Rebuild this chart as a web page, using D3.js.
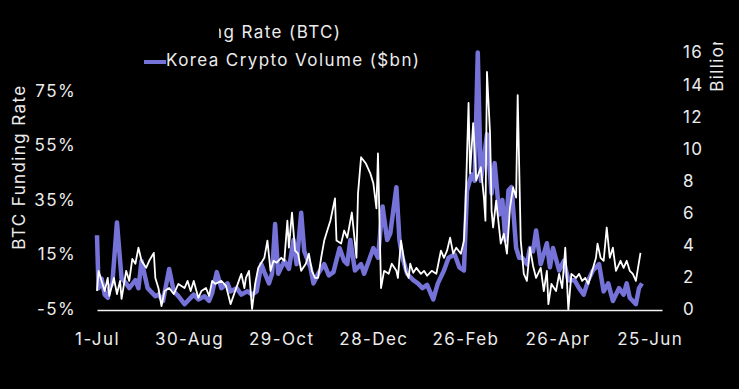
<!DOCTYPE html>
<html>
<head>
<meta charset="utf-8">
<script src="https://cdn.jsdelivr.net/npm/d3@7"></script>
<style>
  html, body { margin: 0; padding: 0; background: #000; }
  svg { display: block; }
  text { font-family: Inter, "Open Sans", sans-serif; fill: #ececec; letter-spacing: 1.4px; }
</style>
</head>
<body>
<svg id="chart" width="739" height="389"></svg>
<script>
const START = new Date(2023, 6, 1);
const tickDays = [0, 60, 120, 180, 240, 300, 360];
const tickLabels = ['1-Jul', '30-Aug', '29-Oct', '28-Dec', '26-Feb', '26-Apr', '25-Jun'];
const rateTicks = [-5, 15, 35, 55, 75];
const volumeTicks = [0, 2, 4, 6, 8, 10, 12, 14, 16];

// days since 1-Jul, BTC funding rate (%)
const rateDays = [0, 1, 5, 7, 8, 11, 13, 15, 16, 19, 21, 23, 25, 27, 29, 32, 34, 37, 38, 40,
  42, 44, 47, 50, 53, 57, 59, 61, 63, 66, 68, 71, 73, 75, 77, 81, 84, 87, 90, 94,
  96, 97, 99, 101, 103, 105, 109, 111, 113, 115, 117, 120, 122, 124, 125, 127, 129, 131, 133, 136,
  138, 140, 142, 144, 146, 148, 150, 152, 155, 156, 159, 161, 163, 166, 169, 170, 172, 175, 178, 180,
  182, 183, 185, 187, 190, 192, 195, 196, 198, 201, 203, 204, 206, 208, 211, 213, 215, 218, 221, 224,
  226, 228, 230, 232, 234, 237, 239, 240, 242, 243, 245, 247, 250, 252, 253, 254, 256, 257, 258, 260,
  263, 265, 267, 269, 271, 273, 274, 276, 278, 280, 282, 284, 286, 289, 291, 293, 294, 296, 299, 301,
  303, 305, 307, 309, 312, 314, 316, 318, 320, 322, 325, 326, 328, 330, 332, 334, 336, 338, 341, 343,
  345, 347, 349, 351, 354];
const rateValues = [1.6, 9.0, 1.6, 6.4, -0.2, 6.4, 0.5, 5.3, -1.3, 9.0, 5.3, 13.4, 11.6, 17.5, 12.7, 10.1, 12.7, 15.6, 6.4, 2.7,
  -3.9, 1.6, 2.7, 0.5, 4.2, 2.7, 5.3, 1.6, 5.3, -0.9, 1.6, 2.7, -0.2, 5.3, 4.2, 5.3, 3.5, -3.2, 1.6, 7.9,
  2.7, 6.4, 9.0, -5.0, 4.2, 10.1, 13.8, 20.1, 9.0, 12.7, 12.0, 13.8, 12.7, 27.4, 17.5, 30.4, 16.4, 15.3, 9.0, 11.6,
  15.3, 9.0, 6.4, 6.4, 13.8, 20.1, 23.8, 27.4, 35.6, 20.1, 19.0, 23.8, 21.2, 30.4, 13.8, 37.4, 50.7, 48.5, 44.8, 41.1,
  31.9, 52.1, 2.7, 9.0, 7.9, 11.6, 9.0, 6.4, 20.1, 9.0, 6.4, 11.6, 8.3, 10.1, 7.9, 9.0, 7.2, 9.0, 7.9, 16.4,
  13.8, 16.4, 21.2, 15.3, 17.5, 15.3, 20.1, 32.2, 70.6, 44.8, 63.2, 42.2, 47.0, 35.9, 27.4, 82.0, 59.5, 31.1, 24.9, 34.8,
  19.0, 22.6, 15.3, 32.2, 39.6, 35.9, 73.5, 20.1, 7.9, 5.3, 17.5, 10.9, 6.4, 10.1, 1.6, 9.0, -3.2, 4.2, 1.6, 7.9,
  2.7, 17.5, -5.3, 7.9, 6.4, 7.9, 5.3, 6.4, 4.2, 7.9, 13.8, 19.0, 13.8, 12.7, 24.9, 13.8, 17.5, 9.0, 12.7, 10.1,
  12.7, 9.0, 7.9, 5.3, 15.6];

// days since 1-Jul, Korea crypto volume ($bn)
const volumeDays = [0, 1, 3, 5, 7, 8, 10, 13, 16, 19, 21, 25, 27, 29, 33, 35, 38, 40, 43, 47,
  50, 53, 57, 60, 63, 66, 70, 73, 75, 78, 81, 85, 87, 91, 94, 98, 101, 104, 107, 109,
  112, 114, 116, 118, 122, 125, 128, 130, 133, 135, 139, 141, 144, 148, 151, 154, 158, 161, 163, 165,
  168, 172, 174, 177, 180, 183, 186, 189, 191, 195, 197, 199, 202, 206, 209, 212, 215, 219, 222, 226,
  229, 233, 236, 239, 241, 244, 246, 248, 250, 252, 254, 257, 259, 262, 264, 266, 268, 270, 273, 275,
  277, 280, 282, 284, 286, 289, 293, 295, 297, 301, 304, 307, 311, 314, 317, 320, 323, 327, 330, 333,
  336, 340, 343, 345, 347, 351, 353, 355];
const volumeValues = [4.6, 1.3, 1.9, 0.9, 0.7, 1.3, 1.6, 5.4, 1.9, 1.6, 1.3, 1.8, 1.3, 3.0, 1.3, 1.1, 0.8, 0.9, 0.5, 2.5,
  1.1, 0.8, 0.3, 0.6, 0.9, 0.6, 0.8, 0.5, 1.0, 2.3, 1.3, 1.6, 1.1, 1.3, 0.9, 1.1, 0.9, 1.1, 2.8, 2.3,
  1.6, 2.2, 5.3, 2.2, 3.0, 2.5, 4.3, 2.8, 6.0, 3.6, 2.6, 1.6, 2.2, 2.8, 2.1, 2.3, 3.8, 3.0, 2.8, 4.3,
  2.4, 2.8, 2.2, 3.0, 3.8, 3.2, 6.4, 4.3, 4.7, 7.6, 4.3, 3.2, 2.2, 1.8, 1.6, 1.3, 1.5, 0.6, 1.6, 2.4,
  3.2, 3.4, 2.6, 2.4, 7.4, 8.4, 8.0, 16.0, 8.0, 9.4, 10.9, 7.2, 9.1, 5.9, 6.8, 4.3, 7.4, 7.6, 3.8, 3.2,
  3.2, 2.8, 3.8, 3.6, 4.9, 2.8, 4.1, 2.6, 3.8, 2.4, 3.0, 1.8, 1.8, 1.3, 0.9, 1.8, 2.4, 2.8, 1.1, 1.6,
  0.5, 1.3, 0.9, 1.6, 0.7, 0.3, 1.3, 1.6];

const svg = d3.select('#chart');
const day = (d) => d3.timeDay.offset(START, d);

const x = d3.scaleTime().domain([START, day(368)]).range([97, 662]);
const yRate = d3.scaleLinear().domain([-5, 75]).range([309, 91]);
const yVol = d3.scaleLinear().domain([0, 16]).range([309, 52.5]);

// bottom axis
const xAxis = svg.append('g').attr('transform', 'translate(0,310)')
  .call(d3.axisBottom(x).tickValues(tickDays.map(day))
    .tickFormat((d, i) => tickLabels[i]).tickSize(0).tickPadding(23));
xAxis.select('.domain').attr('stroke', '#f2f2f2').attr('stroke-width', 1.5);
xAxis.selectAll('text').attr('font-size', 17).attr('fill', '#ececec');

const leftAxis = svg.append('g').attr('transform', 'translate(97,0)')
  .call(d3.axisLeft(yRate).tickValues(rateTicks).tickFormat((d) => d + '%').tickSize(0).tickPadding(21));
leftAxis.select('.domain').remove();
leftAxis.selectAll('text').attr('font-size', 17).attr('fill', '#ececec');

const rightAxis = svg.append('g').attr('transform', 'translate(662,0)')
  .call(d3.axisRight(yVol).tickValues(volumeTicks).tickSize(0).tickPadding(21));
rightAxis.select('.domain').remove();
rightAxis.selectAll('text').attr('font-size', 17).attr('fill', '#ececec');

// axis titles
svg.append('text').attr('transform', 'translate(25,167) rotate(-90)')
  .attr('text-anchor', 'middle').attr('font-size', 17).text('BTC Funding Rate');

svg.append('clipPath').attr('id', 'titleClip')
  .append('rect').attr('x', 690).attr('y', 42).attr('width', 49).attr('height', 120);
svg.append('g').attr('clip-path', 'url(#titleClip)')
  .append('text').attr('transform', 'translate(723,63) rotate(-90)')
  .attr('text-anchor', 'middle').attr('font-size', 17).text('Billion');

// lines
const volLine = d3.line().x((d, i) => x(day(volumeDays[i]))).y((d) => yVol(d));
const rateLine = d3.line().x((d, i) => x(day(rateDays[i]))).y((d) => yRate(d));

svg.append('path').datum(volumeValues).attr('d', volLine)
  .attr('fill', 'none').attr('stroke', '#7673d8').attr('stroke-width', 4.5).attr('stroke-linejoin', 'round');
svg.append('path').datum(rateValues).attr('d', rateLine)
  .attr('fill', 'none').attr('stroke', '#ffffff').attr('stroke-width', 1.8).attr('stroke-linejoin', 'round');

// legend (first entry partly hidden as in the source)
svg.append('clipPath').attr('id', 'legendClip')
  .append('rect').attr('x', 219).attr('y', 0).attr('width', 300).attr('height', 50);
const leg1 = svg.append('g').attr('clip-path', 'url(#legendClip)');
leg1.append('line').attr('x1', 140).attr('x2', 162).attr('y1', 33).attr('y2', 33)
  .attr('stroke', '#fff').attr('stroke-width', 2);
leg1.append('text').attr('x', 161).attr('y', 38).attr('font-size', 17).text('Funding Rate (BTC)');

svg.append('line').attr('x1', 144).attr('x2', 166).attr('y1', 62).attr('y2', 62)
  .attr('stroke', '#7673d8').attr('stroke-width', 4);
svg.append('text').attr('x', 166).attr('y', 66).attr('font-size', 17).text('Korea Crypto Volume ($bn)');
</script>
</body>
</html>
